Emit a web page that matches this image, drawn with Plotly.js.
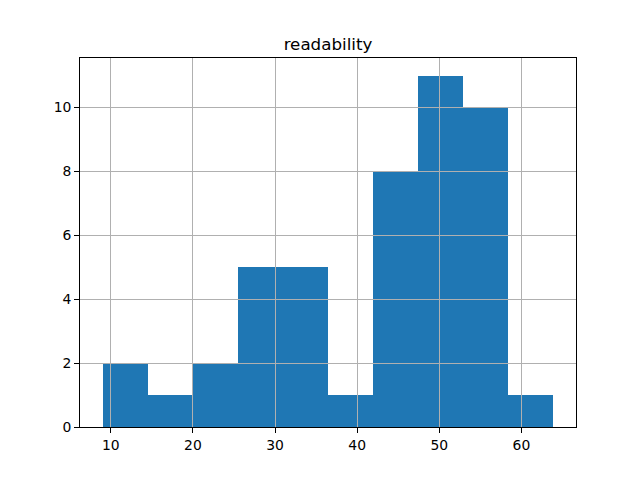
<!DOCTYPE html>
<html><head><meta charset="utf-8">
<script src="https://cdn.plot.ly/plotly-3.0.1.min.js"></script>
<style>body{margin:0}</style></head>
<body><div id="chart" style="width:640px;height:480px"></div>
<script>
// Histogram bin edges and counts
var binEdges = [9.0, 14.49, 19.98, 25.47, 30.96, 36.45, 41.94, 47.43, 52.92, 58.41, 63.9];
var counts = [2, 1, 2, 5, 5, 1, 8, 11, 10, 1];
var xTicks = [10, 20, 30, 40, 50, 60];
var yTicks = [0, 2, 4, 6, 8, 10];
var titleText = 'readability';

var centers = [], widths = [];
for (var i = 0; i < counts.length; i++) {
  centers.push((binEdges[i] + binEdges[i + 1]) / 2);
  widths.push(binEdges[i + 1] - binEdges[i]);
}
var lo = binEdges[0], hi = binEdges[binEdges.length - 1];
var pad = (hi - lo) * 0.05;
var xr = [lo - pad, hi + pad];
var yr = [0, Math.max.apply(null, counts) * 1.05];

var font = {family: 'DejaVu Sans', size: 13.9, color: '#000'};
var axBase = {
  showline: true, mirror: true, linecolor: '#000', linewidth: 1,
  ticks: 'outside', ticklen: 4.9, tickwidth: 1, tickcolor: '#000',
  showgrid: false, zeroline: false, tickfont: font
};

var data = [
  {type: 'bar', x: centers, y: counts, width: widths,
   marker: {color: '#1f77b4', line: {width: 0}}, xaxis: 'x', yaxis: 'y', hoverinfo: 'skip'},
  {type: 'scatter', x: [], y: [], xaxis: 'x2', yaxis: 'y2', showlegend: false}
];

var layout = {
  width: 640, height: 480,
  margin: {l: 80, r: 64, t: 58, b: 53},
  paper_bgcolor: '#fff', plot_bgcolor: 'rgba(0,0,0,0)',
  showlegend: false, bargap: 0,
  title: {text: titleText, font: {family: 'DejaVu Sans', size: 16.7, color: '#000'},
          xref: 'paper', x: 0.5, xanchor: 'center', y: 1 - 50/480, yanchor: 'bottom'},
  xaxis: Object.assign({}, axBase, {range: xr, tickvals: xTicks, ticktext: xTicks.map(String)}),
  yaxis: Object.assign({}, axBase, {range: yr, tickvals: yTicks, ticktext: yTicks.map(String)}),
  xaxis2: {range: xr, tickvals: xTicks, showgrid: true, gridcolor: '#b0b0b0', gridwidth: 1,
           showticklabels: false, ticks: '', zeroline: false, showline: false, anchor: 'y2', domain: [0, 1]},
  yaxis2: {range: yr, tickvals: yTicks, showgrid: true, gridcolor: '#b0b0b0', gridwidth: 1,
           showticklabels: false, ticks: '', zeroline: false, showline: false, anchor: 'x2', domain: [0, 1]}
};

Plotly.newPlot('chart', data, layout, {displayModeBar: false, staticPlot: true});
</script></body></html>
